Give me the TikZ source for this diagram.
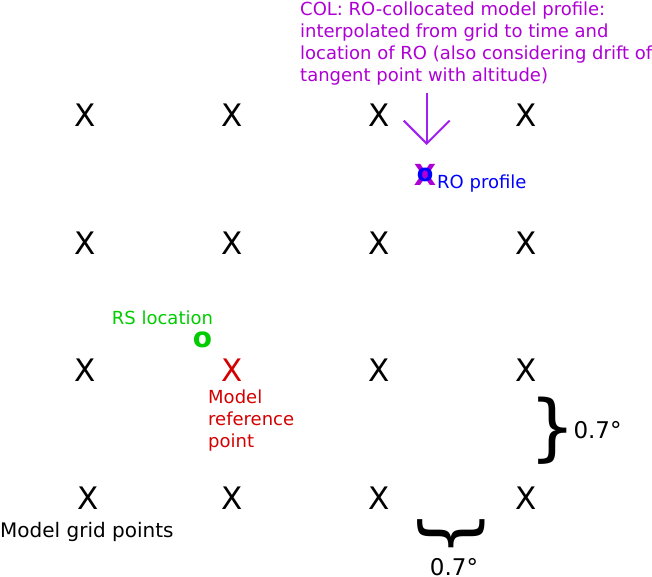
\documentclass[tikz,border=0pt]{standalone}
\usepackage{fontspec}
\setmainfont{DejaVu Sans}
\usepackage{xcolor}
\usetikzlibrary{positioning,arrows.meta}
\definecolor{colpurple}{RGB}{174,0,212}
\definecolor{arrowpurple}{RGB}{160,32,240}
\definecolor{rsgreen}{RGB}{0,204,0}
\definecolor{refred}{RGB}{212,0,0}

\begin{document}
\begin{tikzpicture}[x=1pt, y=-1pt, on grid, node distance=127.7pt and 147pt,
    gridpt/.style={inner sep=0pt, font=\fontsize{31}{31}\selectfont},
    lbl/.style={inner sep=0pt, align=left, font=\fontsize{18}{22}\selectfont},
    bigbrace/.style={inner sep=0pt, font=\fontsize{73}{73}\selectfont}]
    \useasboundingbox (0,0) rectangle (652,577);

    \node [gridpt] (a1) at (85,115) {X};
    \node [gridpt, right=of a1] (a2) {X};
    \node [gridpt, right=of a2] (a3) {X};
    \node [gridpt, right=of a3] (a4) {X};
    \node [gridpt, below=of a1] (b1) {X};
    \node [gridpt, right=of b1] (b2) {X};
    \node [gridpt, right=of b2] (b3) {X};
    \node [gridpt, right=of b3] (b4) {X};
    \node [gridpt, below=of b1] (c1) {X};
    \node [gridpt, right=of c1, text=refred] (c2) {X};
    \node [gridpt, right=of c2] (c3) {X};
    \node [gridpt, right=of c3] (c4) {X};
    \node [gridpt, below=of c1, xshift=3pt] (d1) {X};
    \node [gridpt, below=of c2] (d2) {X};
    \node [gridpt, right=of d2] (d3) {X};
    \node [gridpt, right=of d3] (d4) {X};

    \node [lbl, anchor=base west] (gridtxt) at (0,537.3) {\fontsize{20}{24}\selectfont Model grid points};
    \node [lbl, anchor=north west, text=refred] (reftxt) at (208,389.6) {Model\\reference\\point};

    \node [inner sep=0pt, text=rsgreen, font=\fontsize{28}{28}\selectfont\bfseries] (rs) at (202.5,339.5) {o};
    \node [lbl, anchor=base west, text=rsgreen] (rstxt) at (111.7,324) {RS location};

    \node [gridpt, text=colpurple, font=\fontsize{29}{29}\selectfont\bfseries] (col) at (425,174.5) {X};
    \node [inner sep=0pt, text=blue, font=\fontsize{24}{24}\selectfont\bfseries] (ro) at (col) {o};
    \node [lbl, anchor=base west, text=blue] (rotxt) at (437,189) {RO profile};
    \node [lbl, anchor=north west, text=colpurple] (coltxt) at (300,1.3)
        {COL: RO-collocated model profile:\\interpolated from grid to time and\\location of RO (also considering drift of\\tangent point with altitude)};

    \coordinate (arrtop) at (426.7,93.3);
    \coordinate (arrtip) at (426.7,145);
    \draw [arrowpurple, line width=2pt, -{Straight Barb[length=23pt, width=46pt]}] (arrtop) -- (arrtip);

    \node [bigbrace] (vbrace) at (553,430.8) {\}};
    \node [lbl, anchor=base west, font=\fontsize{23}{23}\selectfont] (vtxt) at (573.3,438.3) {0.7°};
    \node [bigbrace, rotate=-90] (hbrace) at (451.7,533.3) {\}};
    \node [lbl, anchor=base, font=\fontsize{23}{23}\selectfont] (htxt) at (454,575) {0.7°};
\end{tikzpicture}
\end{document}
